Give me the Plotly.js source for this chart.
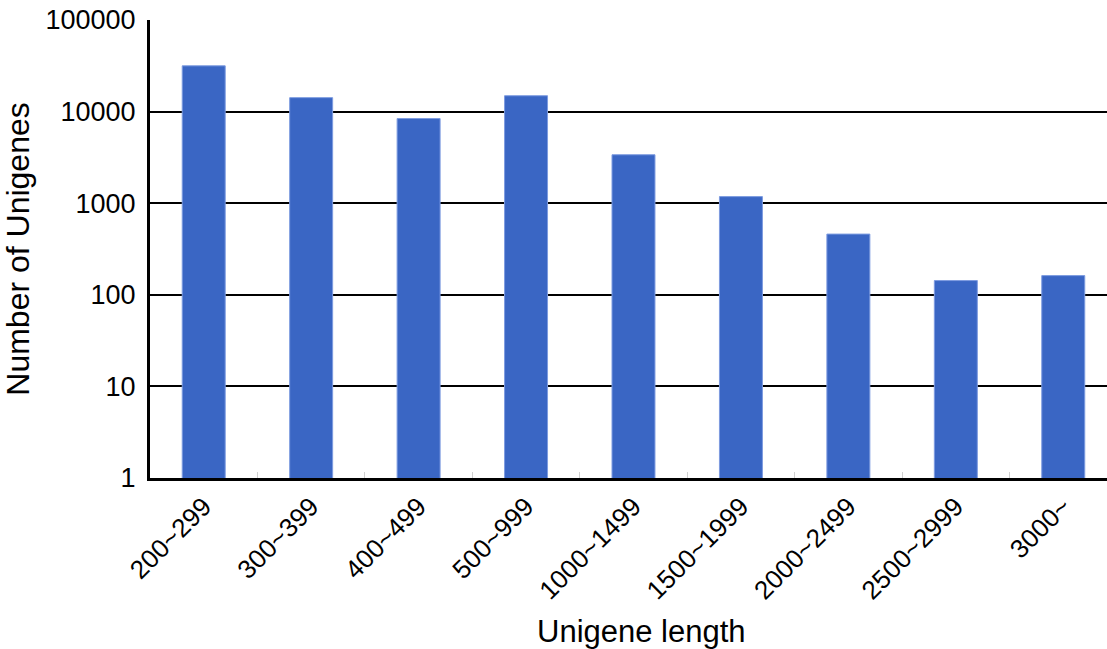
<!DOCTYPE html>
<html>
<head>
<meta charset="utf-8">
<script src="https://cdn.plot.ly/plotly-3.0.1.min.js"></script>
<style>html,body{margin:0;padding:0;background:#fff;}#chart{width:1107px;height:649px;}</style>
</head>
<body>
<div id="chart"></div>
<script>
const categories = ["200~299","300~399","400~499","500~999","1000~1499","1500~1999","2000~2499","2500~2999","3000~"];
const counts = [31600, 14200, 8400, 14900, 3380, 1180, 460, 143, 162];
const yTickVals = [1, 10, 100, 1000, 10000, 100000];
const yTickText = ["1","10","100","1000","10000","100000"];
const xTitle = "Unigene length";
const yTitle = "Number of Unigenes";

const trace = {
  type: "bar",
  x: categories,
  y: counts,
  width: 0.4,
  marker: {color: "#3A66C4", line: {color: "#7d9be0", width: 1}},
  hoverinfo: "x+y"
};

const layout = {
  width: 1107, height: 649,
  margin: {l: 150, r: 0, t: 20, b: 171},
  paper_bgcolor: "#fff", plot_bgcolor: "#fff",
  font: {family: "Liberation Sans, Arial, sans-serif", color: "#000"},
  showlegend: false,
  bargap: 0.6,
  xaxis: {
    type: "category",
    range: [-0.5, 8.407],
    tickson: "boundaries",
    ticks: "inside", ticklen: 6, tickwidth: 1, tickcolor: "#d0d0d0",
    tickangle: -45,
    tickfont: {size: 26},
    showline: true, linecolor: "#000", linewidth: 3,
    showgrid: false, zeroline: false,
    automargin: false
  },
  yaxis: {
    type: "log",
    range: [0, 5],
    tickvals: yTickVals, ticktext: yTickText,
    tickfont: {size: 27},
    ticks: "",
    ticklabelstandoff: 6,
    showline: true, linecolor: "#000", linewidth: 3,
    showgrid: true, gridcolor: "#000", gridwidth: 2,
    zeroline: false,
    automargin: false,
    title: {text: yTitle, font: {size: 32}, standoff: 8}
  },
  annotations: [{
    text: xTitle, showarrow: false,
    xref: "paper", yref: "paper",
    x: 0.514, y: -0.336, xanchor: "center", yanchor: "middle",
    font: {size: 31}
  }]
};

Plotly.newPlot("chart", [trace], layout, {displayModeBar: false, staticPlot: true});
</script>
</body>
</html>
